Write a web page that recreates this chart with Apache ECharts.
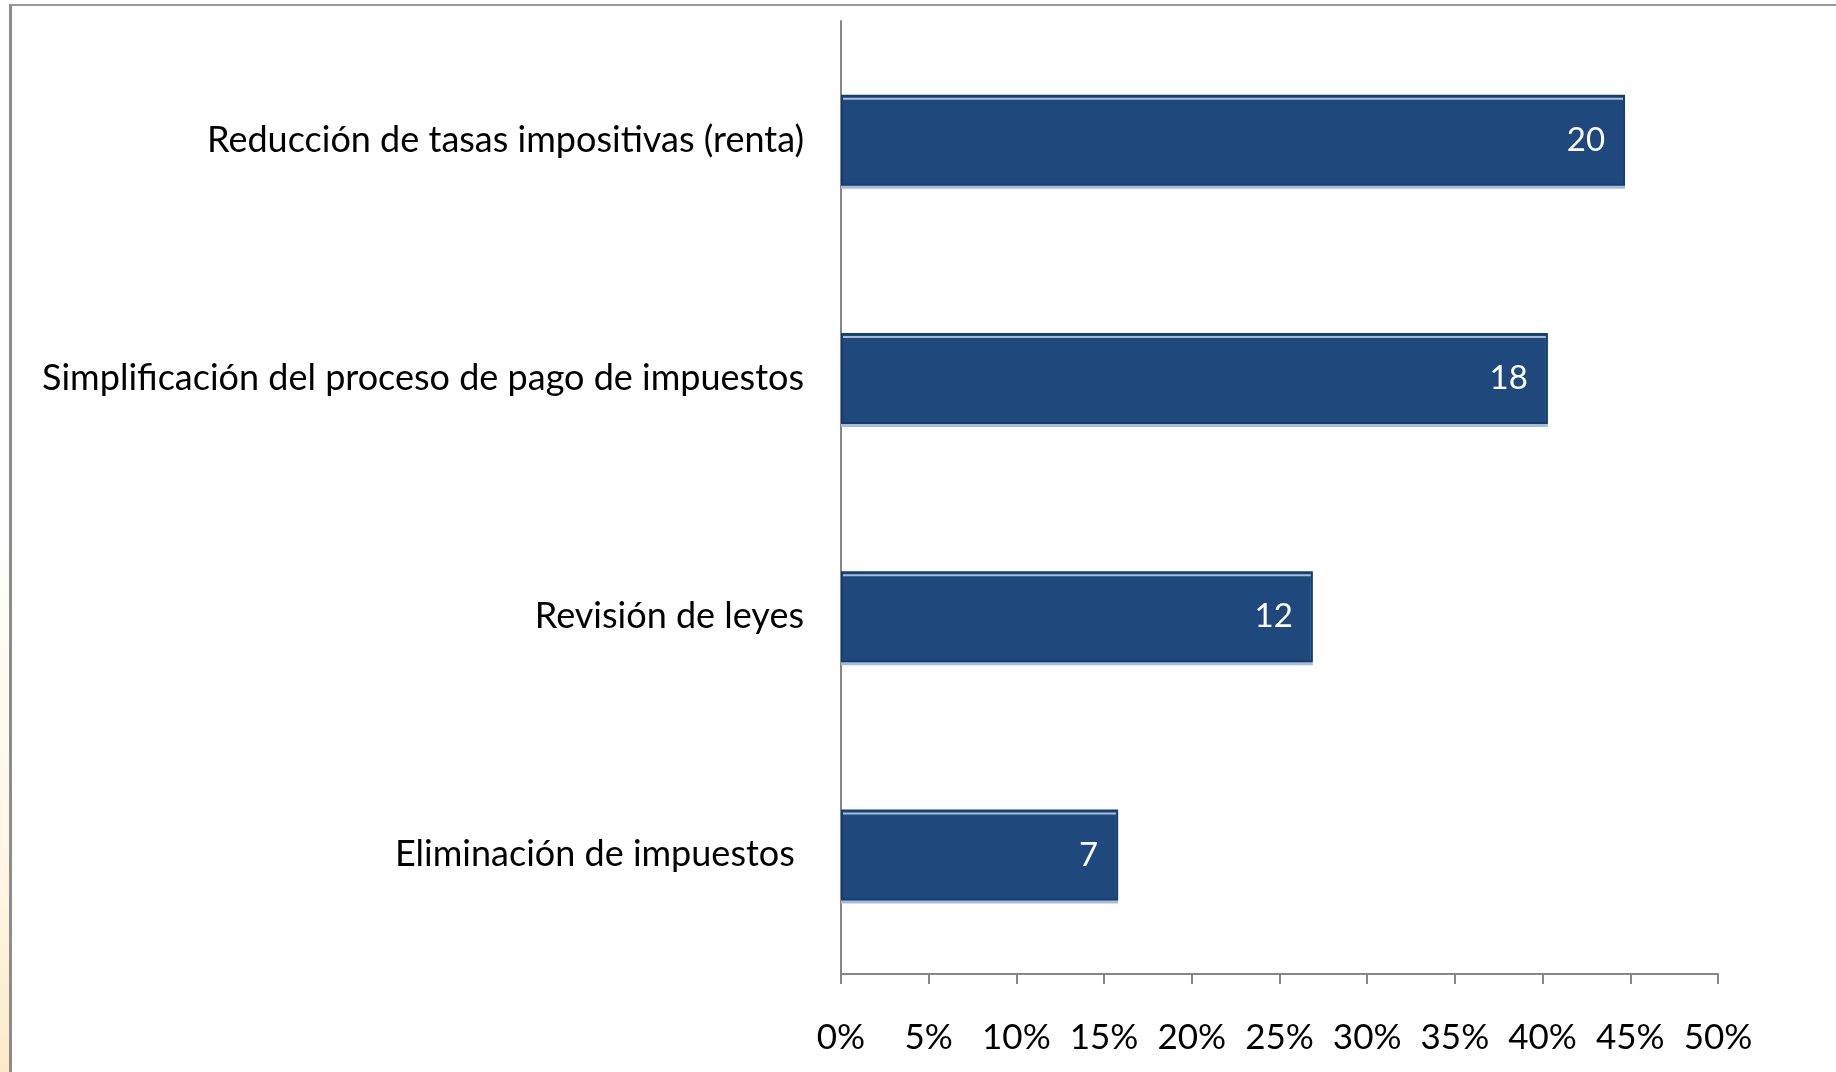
<!DOCTYPE html>
<html>
<head>
<meta charset="utf-8">
<script src="https://cdn.jsdelivr.net/npm/echarts@6/dist/echarts.min.js"></script>
<style>
  html, body {
    margin: 0;
    padding: 0;
    background: #fff;
  }
  .slide-edge {
    position: absolute;
    left: 0;
    top: 0;
    width: 9px;
    height: 1072px;
    background: linear-gradient(to bottom, #ffffff 0%, #ffffff 45%, #fff7e6 80%, #fdeac8 100%);
  }
  .frame {
    position: absolute;
    left: 9px;
    top: 4px;
    width: 1840px;
    height: 1080px;
    border-top: 2px solid #9a9a9a;
    border-left: 3px solid #8c8c8c;
  }
  #chart-view {
    position: absolute;
    left: 0;
    top: 0;
    width: 1836px;
    height: 1072px;
  }
</style>
</head>
<body>
<div class="slide-edge"></div>
<div class="frame"></div>
<div id="chart-view"></div>

<script>
// categorias de arriba hacia abajo
var categories = [
  "Reducción de tasas impositivas (renta)",
  "Simplificación del proceso de pago de impuestos",
  "Revisión de leyes",
  "Eliminación de impuestos "
];
var percents = [44.7, 40.3, 26.9, 15.8];
// numero de respuestas que aparece dentro de cada barra
var counts = [20, 18, 12, 7];
var xTicks = [0, 5, 10, 15, 20, 25, 30, 35, 40, 45, 50];

var fontName = "Lato";

var myChart = echarts.init(document.getElementById("chart-view"), null, {renderer: "canvas"});
myChart.setOption({
  backgroundColor: "transparent",
  animation: false,
  grid: {
    left: 841,
    right: 118,
    top: 21,
    bottom: 98,
    containLabel: false,
  },
  xAxis: {
    type: "value",
    min: xTicks[0],
    max: xTicks[xTicks.length - 1],
    interval: xTicks[1] - xTicks[0],
    splitLine: {show: false},
    axisLine: {
      show: true,
      lineStyle: {color: "#868686", width: 2},
    },
    axisTick: {
      show: true,
      length: 10,
      lineStyle: {color: "#868686", width: 2},
    },
    axisLabel: {
      formatter: "{value}%",
      color: "#000",
      fontFamily: fontName,
      fontSize: 35,
      margin: 46,
    },
  },
  yAxis: {
    type: "category",
    inverse: true,
    data: categories,
    axisLine: {
      show: true,
      lineStyle: {color: "#868686", width: 2},
    },
    axisTick: {show: false},
    axisLabel: {
      color: "#000",
      fontFamily: fontName,
      fontSize: 36,
      margin: 37,
    },
  },
  series: [
    {
      type: "bar",
      data: percents,
      barWidth: 91,
      itemStyle: {
        color: "#1f497d",
        borderColor: "#123e72",
        borderWidth: 2,
        shadowColor: "#a9bcd6",
        shadowOffsetY: 3,
        shadowBlur: 0,
      },
      label: {
        show: true,
        position: "insideRight",
        distance: 20,
        color: "#fff",
        fontFamily: fontName,
        fontSize: 33,
        formatter: function (p) {
          return counts[p.dataIndex];
        },
      },
    },
  ],
});
</script>
</body>
</html>
